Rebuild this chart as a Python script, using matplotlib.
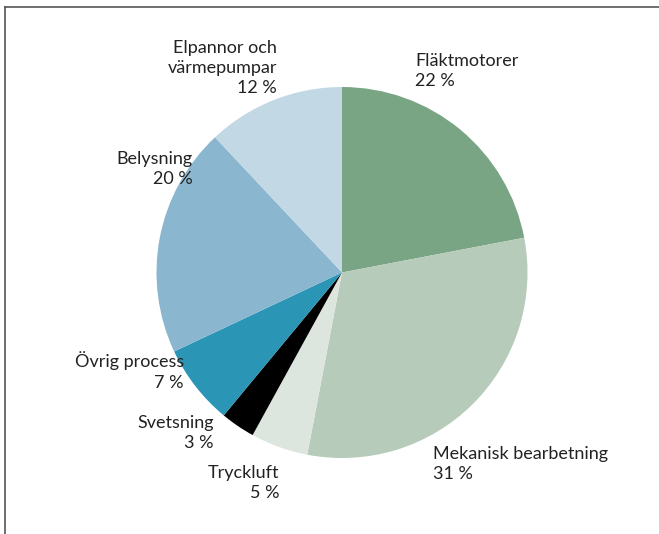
import matplotlib
matplotlib.use("Agg")
import matplotlib.pyplot as plt
from matplotlib.lines import Line2D

categories = ["Fläktmotorer", "Mekanisk bearbetning", "Tryckluft", "Svetsning",
              "Övrig process", "Belysning", "Elpannor och\nvärmepumpar"]
values = [22, 31, 5, 3, 7, 20, 12]
colors = ["#7aa584", "#b6cbb9", "#dde5df", "#000000", "#2a95b5", "#8bb6d0", "#c2d9e5"]

plt.rcParams['font.family'] = ['Lato', 'DejaVu Sans']

W, H = 659, 534
CX, CY, R = 342, 272.5, 185.5
fig = plt.figure(figsize=(W / 100, H / 100), dpi=100)
ax = fig.add_axes([0, 0, 1, 1])
ax.axis('off')

ax.pie(values, colors=colors, startangle=90, counterclock=False, radius=1.0,
       wedgeprops=dict(linewidth=0))
ax.set_xlim(-CX / R, (W - CX) / R)
ax.set_ylim((CY - H) / R, CY / R)
ax.set_aspect('auto')

def px(x, y):
    return (x - CX) / R, (CY - y) / R

# label anchor positions in pixels (x, y center of block), alignment
label_pos = [
    (415, 71, 'left'),
    (433, 464, 'left'),
    (279, 483, 'right'),
    (214, 433, 'right'),
    (184, 371, 'right'),
    (193, 169, 'right'),
    (277, 68, 'right'),
]
for cat, v, (x, y, ha) in zip(categories, values, label_pos):
    tx, ty = px(x, y)
    ax.text(tx, ty, f"{cat}\n{v} %", ha=ha, va='center', multialignment=ha,
            fontsize=13, color='#222222', linespacing=1.33)

fig.add_artist(Line2D([5 / W, 1], [1 - 7 / H, 1 - 7 / H], transform=fig.transFigure,
                      color='#555555', linewidth=1.2))
fig.add_artist(Line2D([5 / W, 5 / W], [0, 1 - 7 / H], transform=fig.transFigure,
                      color='#555555', linewidth=1.2))

fig.savefig("out.png", dpi=100)
